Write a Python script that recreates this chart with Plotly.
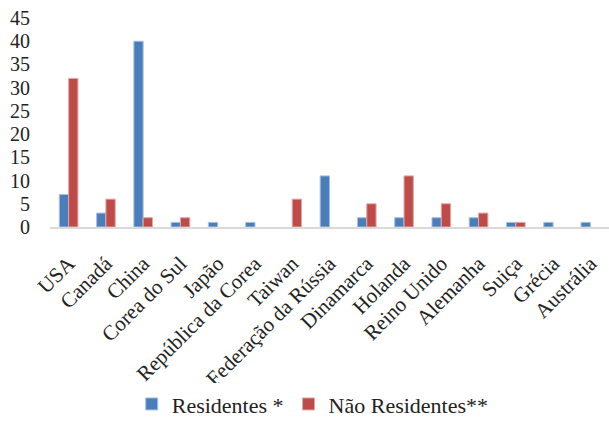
import plotly.graph_objects as go

categories = ["USA", "Canadá", "China", "Corea do Sul", "Japão", "República da Corea",
              "Taiwan", "Federação da Rússia", "Dinamarca", "Holanda", "Reino Unido",
              "Alemanha", "Suiça", "Grécia", "Austrália"]
residentes = [7, 3, 40, 1, 1, 1, 0, 11, 2, 2, 2, 2, 1, 1, 1]
nao_residentes = [32, 6, 2, 2, 0, 0, 6, 0, 5, 11, 5, 3, 1, 0, 0]
y_ticks = [0, 5, 10, 15, 20, 25, 30, 35, 40, 45]

font = '"Liberation Serif", "Times New Roman", serif'
txt = "#222222"

def edge(vals):
    return [1 if v > 0 else 0 for v in vals]

fig = go.Figure()
fig.add_trace(go.Bar(x=categories, y=residentes, name="Residentes *",
                     marker=dict(color="#4A7EBB",
                                 line=dict(color="#A7C0E0", width=edge(residentes)))))
fig.add_trace(go.Bar(x=categories, y=nao_residentes, name="Não Residentes**",
                     marker=dict(color="#BE4B48",
                                 line=dict(color="#E0A9A8", width=edge(nao_residentes)))))

fig.update_layout(
    width=609, height=426,
    margin=dict(l=50, r=0, t=18, b=199),
    paper_bgcolor="white", plot_bgcolor="white",
    barmode="group", bargap=0.5, bargroupgap=0,
    font=dict(family=font, size=21, color=txt),
    showlegend=True,
    legend=dict(orientation="h", x=0.47, xanchor="center",
                yref="container", y=0.002, yanchor="bottom",
                font=dict(family=font, size=22, color=txt),
                tracegroupgap=0),
    xaxis=dict(tickangle=-45, showline=True, linecolor="#D9D9D9", linewidth=2,
               ticks="", automargin=False, ticklabelstandoff=14,
               tickfont=dict(family=font, size=21, color=txt)),
    yaxis=dict(range=[0, 45], tickvals=y_ticks, showgrid=False, zeroline=False,
               showline=False, ticks="", automargin=False, ticklabelstandoff=19,
               tickfont=dict(family=font, size=20, color=txt)),
)

fig.write_html("out.html")
